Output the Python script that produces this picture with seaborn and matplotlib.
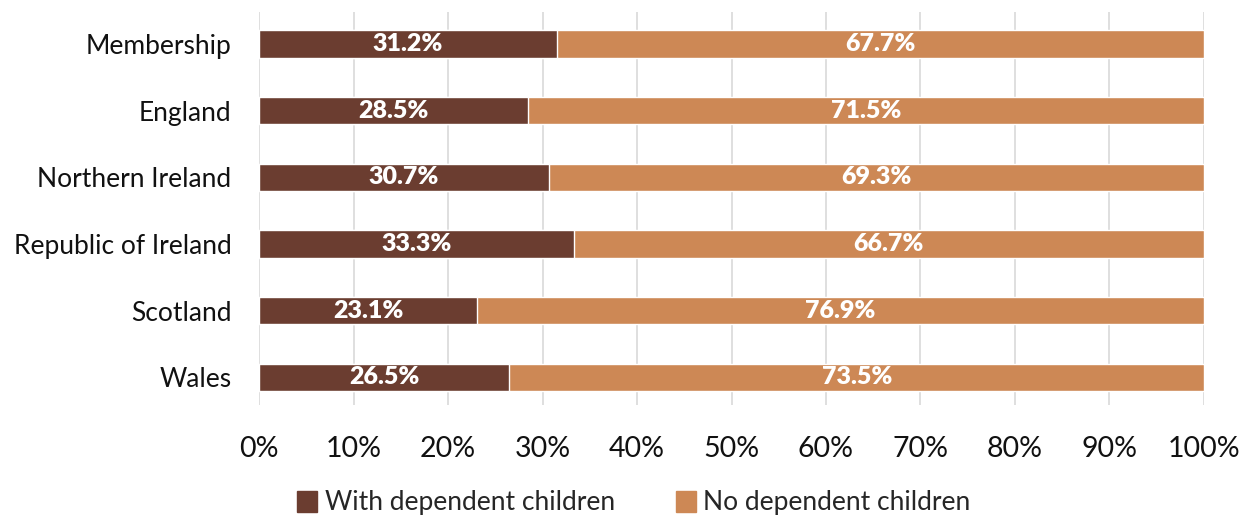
"""Stacked 100% bar chart: members with / without dependent children by region."""

import matplotlib
matplotlib.use("Agg")
import matplotlib.pyplot as plt
from matplotlib.patches import Patch
from matplotlib.ticker import PercentFormatter
import pandas as pd
import seaborn as sns

regions = ["Membership", "England", "Northern Ireland", "Republic of Ireland", "Scotland", "Wales"]
with_children = [31.2, 28.5, 30.7, 33.3, 23.1, 26.5]
no_children = [67.7, 71.5, 69.3, 66.7, 76.9, 73.5]
series_names = ["With dependent children", "No dependent children"]
xticks = [0, 10, 20, 30, 40, 50, 60, 70, 80, 90, 100]

DARK = "#6b3d30"
LIGHT = "#cd8855"

df = pd.DataFrame({"region": regions, "with": with_children, "without": no_children})
# 100% stacked: shares are normalised to the row total
df["total"] = df["with"] + df["without"]
df["with_share"] = df["with"] / df["total"] * 100
df["full"] = 100.0

sns.set_theme(style="white")
plt.rcParams["font.family"] = ["Lato", "DejaVu Sans"]

fig, ax = plt.subplots(figsize=(12.43, 5.21), dpi=100)
fig.subplots_adjust(left=0.2084, right=0.9686, top=0.977, bottom=0.222)

sns.barplot(data=df, y="region", x="full", color=LIGHT, orient="h",
            width=0.41, saturation=1, ax=ax, zorder=2)
sns.barplot(data=df, y="region", x="with_share", color=DARK, orient="h",
            width=0.41, saturation=1, ax=ax, zorder=3)

for i, row in df.iterrows():
    ax.text(row["with_share"] / 2, i, f"{row['with']:.1f}%", ha="center", va="center",
            color="white", fontsize=18, fontweight="heavy", zorder=4)
    ax.text(row["with_share"] + (100 - row["with_share"]) / 2, i, f"{row['without']:.1f}%",
            ha="center", va="center", color="white", fontsize=18, fontweight="heavy", zorder=4)

ax.set_xlim(0, 100)
ax.set_ylim(5.42, -0.48)
ax.set_xticks(xticks)
ax.xaxis.set_major_formatter(PercentFormatter(decimals=0))
ax.grid(axis="x", color="#d9d9d9", linewidth=1.2, zorder=0)
ax.set_axisbelow(True)
for s in ax.spines.values():
    s.set_visible(False)
ax.set_xlabel("")
ax.set_ylabel("")
ax.tick_params(axis="x", labelsize=20.5, pad=22, length=0, colors="#111111")
ax.tick_params(axis="y", labelsize=19, pad=20, length=0, colors="#111111")

handles = [Patch(color=DARK), Patch(color=LIGHT)]
fig.legend(handles, series_names, loc="center", bbox_to_anchor=(0.51, 0.035),
           ncol=2, frameon=False, fontsize=19, handlelength=0.75, handleheight=0.85,
           handletextpad=0.3, columnspacing=2.3)

fig.savefig("out.png", dpi=100)
